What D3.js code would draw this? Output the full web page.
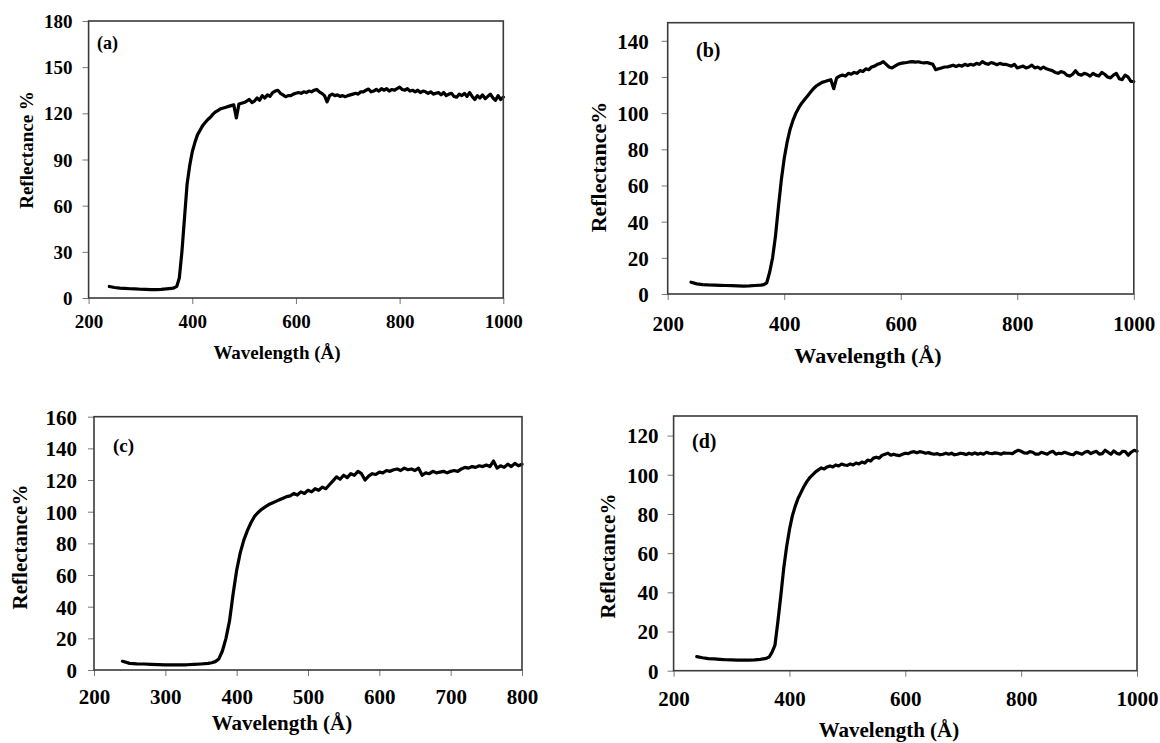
<!DOCTYPE html>
<html lang="en">
  <head>
    <meta charset="utf-8">
    <title>Reflectance spectra (a)-(d)</title>
    <style>
      body { margin: 0; background: #fff; }
      svg text { font-family: "Liberation Serif", "Times New Roman", serif; font-weight: bold; fill: #000; }
      .line { fill: none; stroke: #000; stroke-width: 3.2px; stroke-linejoin: round; stroke-linecap: round; }
      .frame { fill: none; stroke: #3a3a3a; stroke-width: 1.6px; }
      .axis line { stroke: #777; }
      .axis path { display: none; }
    </style>
  </head>
  <body>
    <svg id="wrapper" width="1160" height="743"></svg>

    <script src="https://cdnjs.cloudflare.com/ajax/libs/d3/7.8.5/d3.min.js"></script>
    <script>
    // wavelengths shared by panels (a), (b), (d)
    const wlABD = [240,250,260,270,280,290,300,310,320,330,340,350,360,
      365,370,375,380,385,390,395,400,405,410,415,420,425,
      430,435,440,445,450,455,460,465,470,475,
      480,485,490,495,500,505,510,515,520,525,
      530,535,540,545,550,555,560,565,570,575,
      580,585,590,595,600,605,610,615,620,625,
      630,635,640,645,650,655,660,665,670,675,
      680,685,690,695,700,705,710,715,720,725,
      730,735,740,745,750,755,760,765,770,775,
      780,785,790,795,800,805,810,815,820,825,
      830,835,840,845,850,855,860,865,870,875,
      880,885,890,895,900,905,910,915,920,925,
      930,935,940,945,950,955,960,965,970,975,
      980,985,990,995,1000];

    const reflA = [7.5,6.8,6.4,6.2,6.0,5.9,5.7,5.6,5.5,5.4,5.6,5.9,6.2,
      6.6,7.5,13,30,52,74,86,95,101,106,109,112,114,
      116,117.5,119.5,121,122,123,123.5,124,124.5,125,
      125.5,117,126,126.5,127,128,129,127,128,130,
      128.5,131.5,130,132,131,133.5,134.5,135,133,132,
      130.8,131.5,131.5,132.5,133,133.5,133,134,133.5,134.5,
      134,135,135.5,134,133,131.5,127.5,131.5,132.5,131.5,
      132,131,131.5,130.8,131.5,132,132.5,133,132.5,134,
      134,135,135.8,134,134.5,135.5,134.5,136,135,136,
      134.5,135.5,135,136,137,135.5,135,136,134.5,135,
      134,135,133.5,134.5,134,133,134,132.5,133,133.5,
      132,133.5,131.5,132.5,133,131,130.5,132.5,131.5,133,
      131,133.5,131,129,131.5,130,132,129.5,131,132.5,
      130,128.5,131.5,129,130.5];

    const reflB = [6.5,5.6,5.2,5.0,4.9,4.8,4.7,4.6,4.5,4.4,4.5,4.7,4.9,
      5.2,6.2,12,20,32,48,63,75,84,91,96,100,103,
      105.5,107.5,109.5,111.5,113.5,115,116,117,117.5,118,
      118.5,113.5,119.5,120.5,121,120.5,122,121.5,122.5,122,
      123.5,123,124.5,124,125.5,126,127,127.5,128.5,127,
      125.5,125,126,127,127.5,127.8,128,128.3,128.5,128.2,
      128.4,128,127.8,128,127.5,127,124,124.5,125,125.5,
      125.5,126,126.5,125.8,126.5,126,127,126.3,127,126.5,
      127.5,127,128.5,127.5,127,128,127.5,126.8,127.5,127,
      127,126.5,126,127,125,125.5,126,125,125.5,126.5,
      125,125.5,124.5,125.5,124.5,124,123.5,122.5,122,123,
      122.5,121,120.5,121.5,123.5,121.5,121,122,121.5,120.5,
      122,121,120.5,122.5,121.5,120,119.5,121,122,119,
      118.5,121,120,117.5,117.5];

    const reflD = [7.2,6.6,6.2,6.0,5.8,5.6,5.5,5.4,5.4,5.4,5.5,5.8,6.3,
      7.0,9.5,13,25,38,52,63,72,79,84,88,91,94,
      96.5,98.5,100,101.5,102.5,103.5,103,104,104.5,104,
      105,104.5,105.5,105,104.8,105.5,105,106,105.5,106.5,
      106,107.5,107,108.5,109,108.5,110,110.5,111,110,
      110.5,110,109.8,110.5,111,110.8,111.5,111.8,111.2,111.8,
      111.5,111,111.3,110.8,110.5,110.8,110.2,110.5,111,110.5,
      111,110.2,110.5,111,110.8,110.3,111,110.5,111.2,110.5,
      111,110.5,111.5,111,110.8,111.2,111,110.5,111.2,111,
      111,110.8,111.8,112.5,112,111.2,111,111.8,111.5,110.5,
      110.5,111.5,111,110.5,111.5,112,110.5,111,110.8,111.5,
      111,110.5,110.2,111.5,111,110.5,111.5,112,110.8,111.5,
      112,110.5,110.8,112.5,111.5,110.5,112.2,111,110.5,112,
      111.8,110,111.5,112.5,112];

    // panel (c) only runs to 800
    const wlC = [240,250,260,270,280,290,300,310,320,330,340,350,360,
      365,370,375,380,385,390,395,400,405,410,415,420,425,
      430,435,440,445,450,455,460,465,470,475,
      480,485,490,495,500,505,510,515,520,525,
      530,535,540,545,550,555,560,565,570,575,
      580,585,590,595,600,605,610,615,620,625,
      630,635,640,645,650,655,660,665,670,675,
      680,685,690,695,700,705,710,715,720,725,
      730,735,740,745,750,755,760,765,770,775,
      780,785,790,795,800];

    const reflC = [5.5,4.2,3.9,3.8,3.6,3.4,3.3,3.3,3.2,3.3,3.5,3.8,4.2,
      4.6,5.3,7,12,20,31,48,63,74,82,88,93,97,
      99.5,101.5,103,104.5,105.5,106.5,107.5,108.5,109.5,110,
      111.5,110.5,112.5,111.5,113.5,112.5,114.5,113.5,115.5,114.5,
      117,119.5,122,120.5,123,121.5,124,123,125.5,124,
      120,122.5,124,123.5,125,124.5,126,125.5,126.5,127,
      126,127.5,126.5,127,126,127.5,123,124.5,124,125.5,
      124.5,125,125.5,124.5,125.5,126,125.5,127,128,127.5,
      128.5,128,129,128.5,129.5,128.5,132,127.5,129,128,
      130,128.5,130.5,129,130];

    // tick labels
    const xTicks1000 = [200,400,600,800,1000];
    const xTicks800 = [200,300,400,500,600,700,800];
    const yTicksA = [0,30,60,90,120,150,180];
    const yTicksB = [0,20,40,60,80,100,120,140];
    const yTicksC = [0,20,40,60,80,100,120,140,160];
    const yTicksD = [0,20,40,60,80,100,120];

    const panels = [
      {tag:'(a)', wl:wlABD, refl:reflA, xDomain:[200,1000], yDomain:[0,180], xTicks:xTicks1000, yTicks:yTicksA,
       yTitle:'Reflectance %', box:{l:88.6, r:503.3, t:21, b:298},
       tickFont:19, titleFont:19, tagFont:18, tagPos:[97,49], yLabGap:16, xLabY:328,
       xTitlePos:[277,359], yTitlePos:[33,150]},
      {tag:'(b)', wl:wlABD, refl:reflB, xDomain:[200,1000], yDomain:[0,150], xTicks:xTicks1000, yTicks:yTicksB,
       yTitle:'Reflectance%', box:{l:667.7, r:1133.8, t:22.7, b:294},
       tickFont:21, titleFont:22, tagFont:20, tagPos:[696,57], yLabGap:19, xLabY:331,
       xTitlePos:[868,363], yTitlePos:[606,167]},
      {tag:'(c)', wl:wlC, refl:reflC, xDomain:[200,800], yDomain:[0,160], xTicks:xTicks800, yTicks:yTicksC,
       yTitle:'Reflectance%', box:{l:94, r:522, t:416.7, b:670},
       tickFont:21, titleFont:21, tagFont:19, tagPos:[113,452], yLabGap:17, xLabY:704,
       xTitlePos:[282,730], yTitlePos:[27,547]},
      {tag:'(d)', wl:wlABD, refl:reflD, xDomain:[200,1000], yDomain:[0,130], xTicks:xTicks1000, yTicks:yTicksD,
       yTitle:'Reflectance%', box:{l:673.6, r:1137, t:416, b:670.7},
       tickFont:21, titleFont:21, tagFont:20, tagPos:[692,448], yLabGap:15, xLabY:706,
       xTitlePos:[889,737], yTitlePos:[615,556]}
    ];

    const svg = d3.select('#wrapper');

    panels.forEach(function(p) {
      const b = p.box;
      const x = d3.scaleLinear().domain(p.xDomain).range([b.l, b.r]);
      const y = d3.scaleLinear().domain(p.yDomain).range([b.b, b.t]);
      const g = svg.append('g');

      // y axis ticks (outside, left)
      const ya = g.append('g')
        .attr('class', 'axis')
        .attr('transform', 'translate(' + b.l + ',0)')
        .call(d3.axisLeft(y).tickValues(p.yTicks).tickSize(6).tickSizeOuter(0).tickPadding(p.yLabGap - 6));
      ya.selectAll('text').style('font-size', p.tickFont + 'px').attr('dy', '0.35em');

      // x axis ticks (outside, bottom)
      const xa = g.append('g')
        .attr('class', 'axis')
        .attr('transform', 'translate(0,' + b.b + ')')
        .call(d3.axisBottom(x).tickValues(p.xTicks).tickSize(6).tickSizeOuter(0).tickFormat(d3.format('d')));
      xa.selectAll('text')
        .style('font-size', p.tickFont + 'px')
        .attr('y', p.xLabY - b.b)
        .attr('dy', 0);

      // the curve
      const pts = p.wl.map(function(w, i) { return [w, p.refl[i]]; });
      const line = d3.line()
        .x(function(d) { return x(d[0]); })
        .y(function(d) { return y(d[1]); });
      g.append('path')
        .datum(pts)
        .attr('class', 'line')
        .attr('d', line);

      // frame
      g.append('rect')
        .attr('class', 'frame')
        .attr('x', b.l).attr('y', b.t)
        .attr('width', b.r - b.l).attr('height', b.b - b.t);

      // panel tag
      g.append('text')
        .attr('x', p.tagPos[0]).attr('y', p.tagPos[1])
        .style('font-size', p.tagFont + 'px')
        .text(p.tag);

      // axis titles
      g.append('text')
        .attr('x', p.xTitlePos[0]).attr('y', p.xTitlePos[1])
        .attr('text-anchor', 'middle')
        .style('font-size', p.titleFont + 'px')
        .text('Wavelength (\u00C5)');

      g.append('text')
        .attr('transform', 'translate(' + p.yTitlePos[0] + ',' + p.yTitlePos[1] + ') rotate(-90)')
        .attr('text-anchor', 'middle')
        .style('font-size', p.titleFont + 'px')
        .text(p.yTitle);
    });
    </script>
  </body>
</html>
